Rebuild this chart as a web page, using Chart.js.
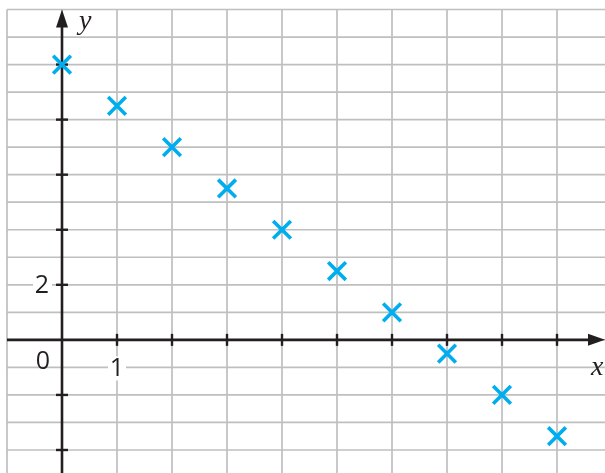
<!DOCTYPE html>
<html><head><meta charset="utf-8">
<script src="https://cdn.jsdelivr.net/npm/chart.js@4/dist/chart.umd.min.js"></script>
<style>html,body{margin:0;padding:0;background:#fff;overflow:hidden}#w{width:605px;height:473px}</style>
</head><body><div id="w"><canvas id="c" width="605" height="473"></canvas></div>
<script>
const xValues = [0, 1, 2, 3, 4, 5, 6, 7, 8, 9];
const yValues = [10, 8.5, 7, 5.5, 4, 2.5, 1, -0.5, -2, -3.5];
const xTickLabels = [1];
const yTickLabels = [2];
const xAxisTicks = [1, 2, 3, 4, 5, 6, 7, 8, 9];
const yAxisTicks = [-4, -2, 2, 4, 6, 8, 10];

const axesPlugin = {
  id: 'axesPlugin',
  beforeDatasetsDraw(chart) {
    const ctx = chart.ctx, xs = chart.scales.x, ys = chart.scales.y;
    const a = chart.chartArea;
    const X = v => xs.getPixelForValue(v), Y = v => ys.getPixelForValue(v);
    ctx.save();
    // grid
    ctx.strokeStyle = '#bfbfc1';
    ctx.lineWidth = 1.7;
    for (let v = Math.ceil(xs.min); v <= xs.max; v++) {
      ctx.beginPath(); ctx.moveTo(X(v), a.top); ctx.lineTo(X(v), a.bottom); ctx.stroke();
    }
    for (let v = Math.ceil(ys.min); v <= ys.max + 0.01; v++) {
      ctx.beginPath(); ctx.moveTo(a.left, Y(v)); ctx.lineTo(a.right, Y(v)); ctx.stroke();
    }
    // label backgrounds & labels
    ctx.font = '25px "Open Sans", "Liberation Sans", sans-serif';
    ctx.textAlign = 'center'; ctx.textBaseline = 'middle';
    xTickLabels.forEach(v => {
      ctx.fillStyle = '#fff';
      ctx.fillRect(X(v) - 9, Y(-1) - 11, 18, 24);
      ctx.fillStyle = '#231f20';
      ctx.fillText(String(v), X(v), Y(-1) + 1);
    });
    yTickLabels.forEach(v => {
      ctx.fillStyle = '#fff';
      ctx.fillRect(X(0) - 29, Y(v) - 11, 19, 23);
      ctx.fillStyle = '#231f20';
      ctx.fillText(String(v), X(0) - 20, Y(v) + 1);
    });
    ctx.fillStyle = '#231f20';
    ctx.fillText('0', X(0) - 19, Y(0) + 22);
    // axes
    ctx.strokeStyle = '#231f20';
    ctx.lineWidth = 2.6;
    ctx.beginPath(); ctx.moveTo(a.left, Y(0)); ctx.lineTo(a.right - 10, Y(0)); ctx.stroke();
    ctx.beginPath(); ctx.moveTo(X(0), a.bottom); ctx.lineTo(X(0), a.top + 12); ctx.stroke();
    // arrows
    ctx.fillStyle = '#231f20';
    ctx.beginPath();
    ctx.moveTo(a.right, Y(0)); ctx.lineTo(a.right - 17, Y(0) - 6); ctx.lineTo(a.right - 17, Y(0) + 6); ctx.closePath(); ctx.fill();
    ctx.beginPath();
    ctx.moveTo(X(0), a.top); ctx.lineTo(X(0) - 6, a.top + 18); ctx.lineTo(X(0) + 6, a.top + 18); ctx.closePath(); ctx.fill();
    // ticks
    ctx.lineWidth = 2.4;
    xAxisTicks.forEach(v => { ctx.beginPath(); ctx.moveTo(X(v), Y(0) - 6); ctx.lineTo(X(v), Y(0) + 6); ctx.stroke(); });
    yAxisTicks.forEach(v => { ctx.beginPath(); ctx.moveTo(X(0) - 6, Y(v)); ctx.lineTo(X(0) + 6, Y(v)); ctx.stroke(); });
    // axis names
    ctx.font = 'italic 28px "Liberation Serif", "DejaVu Serif", serif';
    ctx.textAlign = 'left'; ctx.textBaseline = 'alphabetic';
    ctx.fillText('y', X(0) + 17, a.top + 19);
    ctx.fillText('x', a.right - 14, Y(0) + 35);
    ctx.restore();
  }
};

new Chart(document.getElementById('c'), {
  type: 'scatter',
  data: {
    datasets: [{
      data: xValues.map((x, i) => ({ x: x, y: yValues[i] })),
      pointStyle: 'crossRot',
      pointRadius: 12.5,
      pointHoverRadius: 12.5,
      borderColor: '#00aeef',
      backgroundColor: '#00aeef',
      pointBorderWidth: 3.6,
      borderWidth: 3.6,
      clip: false
    }]
  },
  options: {
    responsive: false,
    maintainAspectRatio: false,
    devicePixelRatio: 1,
    animation: false,
    events: [],
    layout: { autoPadding: false, padding: { left: 7, top: 9.5, right: 0, bottom: 0 } },
    plugins: { legend: { display: false }, tooltip: { enabled: false } },
    scales: {
      x: { type: 'linear', display: false, min: -1, max: (605 - 62) / 55 },
      y: { type: 'linear', display: false, min: -4.836, max: 12 }
    }
  },
  plugins: [axesPlugin]
});
</script></body></html>
